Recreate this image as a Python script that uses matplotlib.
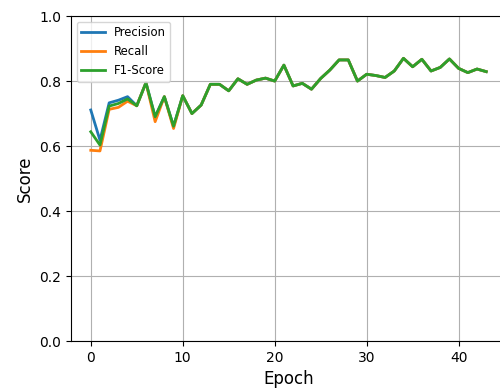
import numpy as np
import matplotlib
matplotlib.use('Agg')
import matplotlib.pyplot as plt

epochs = np.arange(44)

precision = [0.711, 0.618, 0.733, 0.741, 0.752, 0.724, 0.795, 0.690, 0.752, 0.661,
             0.755, 0.700, 0.726, 0.790, 0.790, 0.770, 0.807, 0.790, 0.803, 0.809,
             0.800, 0.849, 0.785, 0.793, 0.775, 0.808, 0.834, 0.865, 0.865, 0.800,
             0.821, 0.817, 0.811, 0.831, 0.870, 0.844, 0.867, 0.831, 0.842, 0.868,
             0.839, 0.826, 0.837, 0.829]
recall = [0.587, 0.585, 0.713, 0.719, 0.738, 0.724, 0.795, 0.675, 0.752, 0.654,
          0.755, 0.700, 0.726, 0.790, 0.790, 0.770, 0.807, 0.790, 0.803, 0.809,
          0.800, 0.849, 0.785, 0.793, 0.775, 0.808, 0.834, 0.865, 0.865, 0.800,
          0.821, 0.817, 0.811, 0.831, 0.870, 0.844, 0.867, 0.831, 0.842, 0.868,
          0.839, 0.826, 0.837, 0.829]
f1 = [0.644, 0.603, 0.723, 0.731, 0.745, 0.724, 0.795, 0.690, 0.752, 0.661,
      0.755, 0.700, 0.726, 0.790, 0.790, 0.770, 0.807, 0.790, 0.803, 0.809,
      0.800, 0.849, 0.785, 0.793, 0.775, 0.808, 0.834, 0.865, 0.865, 0.800,
      0.821, 0.817, 0.811, 0.831, 0.870, 0.844, 0.867, 0.831, 0.842, 0.868,
      0.839, 0.826, 0.837, 0.829]

fig = plt.figure(figsize=(5, 3.88), dpi=100)
# the original is cropped on the right, so the axes run past the figure edge
ax = fig.add_axes([0.142, 0.121, 0.87, 0.8376])

ax.plot(epochs, precision, label='Precision', linewidth=2)
ax.plot(epochs, recall, label='Recall', linewidth=2)
ax.plot(epochs, f1, label='F1-Score', linewidth=2)

ax.set_ylim(0, 1)
ax.set_xlabel('Epoch', fontsize=12)
ax.set_ylabel('Score', fontsize=12)
ax.grid(True)
ax.spines['right'].set_visible(False)
ax.legend(loc='upper left', fontsize='small')

fig.savefig('out.png', dpi=100)
